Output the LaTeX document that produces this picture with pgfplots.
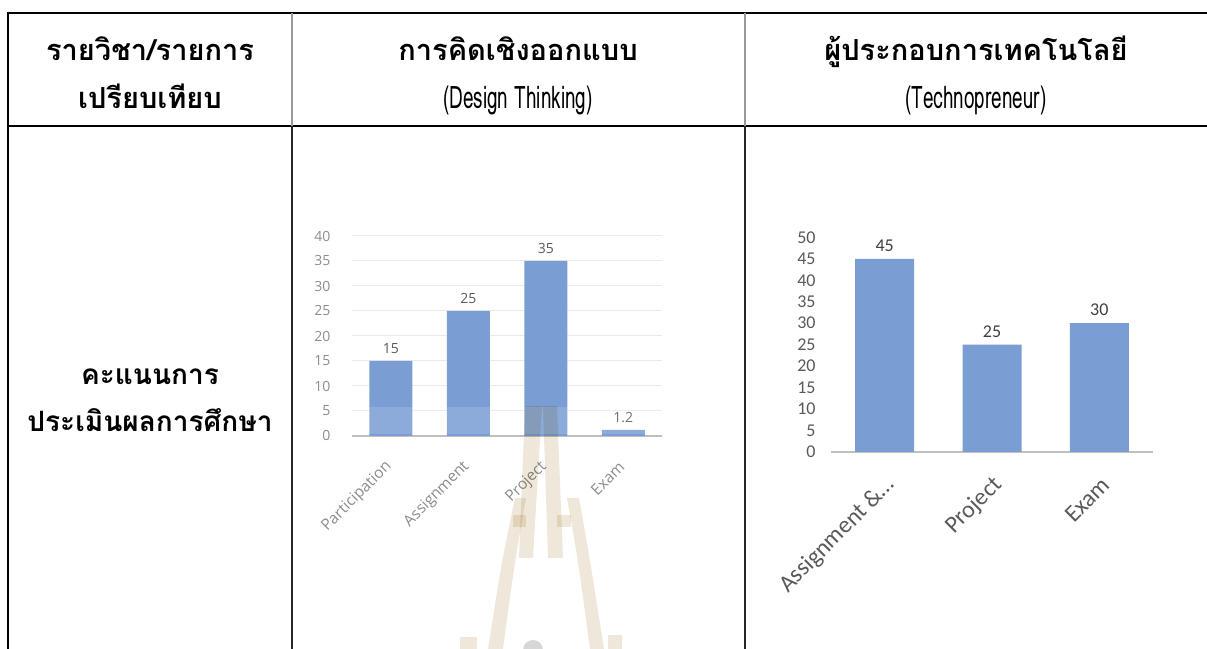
\documentclass[border=0pt]{standalone}
\usepackage{fontspec}
\usepackage{graphicx}
\usepackage{pgfplots}
\pgfplotsset{compat=1.18}
\newfontfamily\thaifont[Script=Thai]{Loma}
\newfontfamily\caf{Carlito}
\newfontfamily\osf{Open Sans}
\definecolor{barblue}{RGB}{122,157,212}
\definecolor{axgray}{RGB}{191,191,191}
\definecolor{gridc}{RGB}{234,234,234}
\definecolor{tickA}{RGB}{140,140,140}
\definecolor{lblA}{RGB}{89,89,89}
\definecolor{tickB}{RGB}{89,89,89}
\definecolor{lblB}{RGB}{64,64,64}
\definecolor{wmark}{RGB}{239,232,218}
\definecolor{wgray}{RGB}{215,215,215}
\begin{document}
\begin{tikzpicture}[x=1bp,y=1bp]
\useasboundingbox (0,0) rectangle (1207,649);
% ---------- chart 1 ----------
\begin{axis}[
  at={(352bp,213bp)}, anchor=south west,
  scale only axis, width=310bp, height=200bp,
  xmin=-0.5, xmax=3.5, ymin=0, ymax=40,
  ytick={0,5,...,40},
  xtick={0,1,2,3}, xticklabels={Participation,Assignment,Project,Exam},
  /pgf/number format/assume math mode=true,
  axis x line*=bottom, axis y line*=left,
  y axis line style={draw=none},
  x axis line style={line width=2.5bp, color=axgray},
  major tick length=0pt,
  ymajorgrids, grid style={line width=1bp, color=gridc},
  yticklabel style={font=\osf\fontsize{14bp}{14bp}\selectfont, color=tickA, xshift=-18bp},
  xticklabel style={xshift=1bp, yshift=-26bp, font=\osf\fontsize{15.5bp}{15.5bp}\selectfont, color=tickA, rotate=45, anchor=east},
  ybar, bar width=43bp,
  nodes near coords,
  nodes near coords style={font=\osf\fontsize{14bp}{14bp}\selectfont, color=lblA, yshift=4bp},
  clip=false,
]
\addplot[fill=barblue, draw=none] coordinates {(0,15) (1,25) (2,35) (3,1.2)};
\end{axis}
% ---------- chart 2 ----------
\begin{axis}[
  at={(831bp,197bp)}, anchor=south west,
  scale only axis, width=322bp, height=214.7bp,
  xmin=-0.5, xmax=2.5, ymin=0, ymax=50,
  ytick={0,5,...,50},
  xtick={0,1,2}, xticklabels={Assignment \&\ldots,Project,Exam},
  /pgf/number format/assume math mode=true,
  axis x line*=bottom, axis y line*=left,
  y axis line style={draw=none},
  x axis line style={line width=2.5bp, color=axgray},
  major tick length=0pt,
  yticklabel style={font=\caf\fontsize{18bp}{18bp}\selectfont, color=tickB, xshift=-12bp},
  xticklabel style={xshift=9bp, yshift=-27bp, font=\caf\fontsize{24bp}{24bp}\selectfont, color=tickB, rotate=45, anchor=east},
  ybar, bar width=59bp,
  nodes near coords,
  nodes near coords style={font=\caf\fontsize{18bp}{18bp}\selectfont, color=lblB, yshift=4bp},
  clip=false,
]
\addplot[fill=barblue, draw=none] coordinates {(0,45) (1,25) (2,30)};
\end{axis}
% ---------- table and watermark (pixel coordinates, y downward) ----------
\begin{scope}[shift={(0,649)}, yscale=-1]
  % watermark
  \fill[white, opacity=0.15] (352,407) rectangle (662,434.5);
  \begin{scope}[blend mode=multiply]
    \fill[wmark] (525,406) -- (542,406) -- (533,558) -- (519,558) -- cycle;
    \fill[wmark] (543,406) -- (557,406) -- (563,558) -- (548,558) -- cycle;
    \fill[wmark] (513,515) rectangle (526,527);
    \fill[wmark] (557,515) rectangle (571,527);
    \fill[wmark] (515,498) -- (526,498) .. controls (515,560) .. (503,649) -- (488,649) .. controls (502,560) .. cycle;
    \fill[wmark] (567,498) -- (579,498) .. controls (590,560) .. (604,649) -- (590,649) .. controls (578,560) .. cycle;
    \fill[wmark] (460,637) rectangle (477,649);
    \fill[wmark] (608,635) rectangle (622,649);
  \end{scope}
  \fill[wgray] (533,650) circle (10);
  % table lines
  \draw[line width=2.5bp] (8,13) -- (1207,13);
  \draw[line width=2.5bp] (8,126) -- (1207,126);
  \draw[line width=2.5bp] (8,11.75) -- (8,649);
  \draw[line width=1.2bp, color=black!40] (292,13) -- (292,126);
  \draw[line width=1.2bp, color=black!40] (745,13) -- (745,126);
  \draw[line width=2.5bp, color=black!85] (292,126) -- (292,649);
  \draw[line width=2.5bp, color=black!85] (745,126) -- (745,649);
  % header text
  \begin{scope}[every node/.style={anchor=base, inner sep=0pt, font=\thaifont\bfseries\fontsize{29bp}{33bp}\selectfont}]
    \node at (150,61) {รายวิชา/รายการ};
    \node at (150,109) {เปรียบเทียบ};
    \node at (518,61) {การคิดเชิงออกแบบ};
    \node at (976,61) {ผู้ประกอบการเทคโนโลยี};
  \end{scope}
  \begin{scope}[every node/.style={anchor=base, inner sep=0pt, font=\thaifont\fontsize{31bp}{35bp}\selectfont}]
    \node at (518,109) {\scalebox{0.61}[1]{(Design Thinking)}};
    \node at (976,109) {\scalebox{0.61}[1]{(Technopreneur)}};
  \end{scope}
  \begin{scope}[every node/.style={anchor=base, inner sep=0pt, font=\thaifont\bfseries\fontsize{28bp}{33bp}\selectfont}]
    \node at (150,385) {คะแนนการ};
    \node at (150,432) {ประเมินผลการศึกษา};
  \end{scope}
\end{scope}
\end{tikzpicture}
\end{document}
